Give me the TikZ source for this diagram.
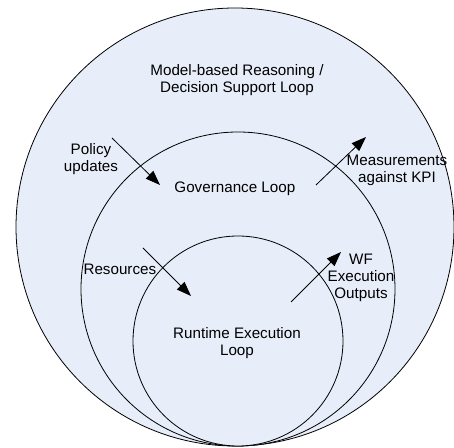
\documentclass[tikz,border=0pt]{standalone}
\usepackage{fontspec}
\setmainfont{Liberation Sans}
\usetikzlibrary{arrows.meta}

\definecolor{loopfill}{RGB}{232,238,249}

\tikzset{
  loop/.style={draw=black, fill=loopfill, line width=0.6pt},
  lbl/.style={align=center, inner sep=0pt, font=\fontsize{11.4}{12.8}\selectfont},
  flow/.style={line width=0.6pt, -{Triangle[length=11pt,width=8pt]}}
}

\begin{document}
\begin{tikzpicture}[x=0.75pt,y=-0.75pt]
  \useasboundingbox (0,0) rectangle (454,448);

  % the three nested loops
  \draw [loop] (235,227) circle [radius=164.25pt];
  \draw [loop] (238,289) circle [radius=117.75pt];
  \draw [loop] (238,341) circle [radius=78.75pt];

  % labels
  \node [lbl] (reason) at (237,80) { Model-based Reasoning /\\ Decision Support Loop };
  \node [lbl] (gov) at (237,189) { Governance Loop };
  \node [lbl] (run) at (237,343) { Runtime Execution\\ Loop };

  \node [lbl] (policy) at (91,159) { Policy\\ updates };
  \node [lbl] (meas) at (397,170) { Measurements\\ against KPI };
  \node [lbl] (res) at (122,269) { Resources };
  \node [lbl] (wf) at (361,278) { WF\\ Execution\\ Outputs };

  % flows in and out
  \coordinate (policy-a) at (112,138);
  \coordinate (policy-b) at (160,185);
  \coordinate (meas-a) at (316,185);
  \coordinate (meas-b) at (366,137);
  \coordinate (res-a) at (143,248);
  \coordinate (res-b) at (191,296);
  \coordinate (wf-a) at (291,302);
  \coordinate (wf-b) at (341,252);

  \draw [flow] (policy-a) -- (policy-b);
  \draw [flow] (meas-a) -- (meas-b);
  \draw [flow] (res-a) -- (res-b);
  \draw [flow] (wf-a) -- (wf-b);
\end{tikzpicture}
\end{document}
